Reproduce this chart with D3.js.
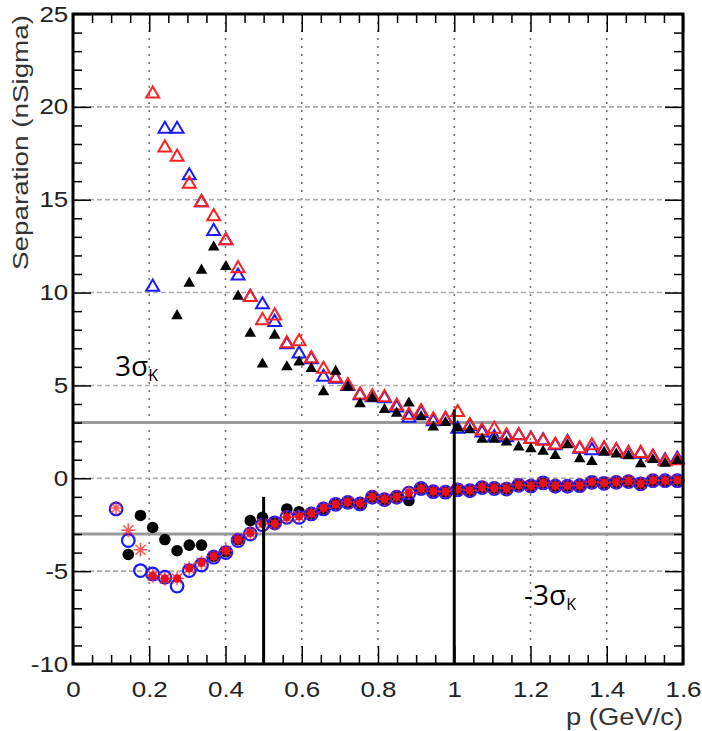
<!DOCTYPE html>
<html>
<head>
<meta charset="utf-8">
<script src="https://cdn.jsdelivr.net/npm/d3@7"></script>
<style>
body { margin: 0; background: #fff; }
svg { display: block; }
</style>
</head>
<body>
<div id="chart"></div>
<script>
// momentum bins (GeV/c)
const pBins = [0.113, 0.145, 0.177, 0.209, 0.241, 0.273, 0.305, 0.337, 0.369, 0.401,
    0.433, 0.465, 0.497, 0.529, 0.561, 0.593, 0.625, 0.657, 0.689, 0.721,
    0.753, 0.785, 0.817, 0.849, 0.881, 0.913, 0.945, 0.977, 1.009, 1.041,
    1.073, 1.105, 1.137, 1.169, 1.201, 1.233, 1.265, 1.297, 1.329, 1.361,
    1.393, 1.425, 1.457, 1.489, 1.521, 1.553, 1.585];

// upper branch (triangles)
const upperRed = [null, null, null, 20.7, 17.8, 17.3, 15.85, 14.85, 14.1, 12.8,
    11.3, 9.75, 8.5, 8.75, 7.25, 7.36, 6.45, 5.88, 5.4, 5.0,
    4.5, 4.4, 4.35, 3.9, 3.4, 3.6, 3.15, 3.2, 3.55, 2.85,
    2.56, 2.65, 2.3, 2.3, 2.1, 2.0, 1.8, 1.9, 1.6, 1.76,
    1.6, 1.5, 1.35, 1.35, 1.15, 0.9, 0.95];
const upperBlue = [null, null, null, 10.3, 18.8, 18.8, 16.3, 14.85, 13.3, 12.8,
    10.9, 9.75, 9.35, 8.4, 7.2, 6.7, 6.4, 5.45, 5.35, 4.95,
    4.45, 4.35, 4.3, 3.8, 3.25, 3.5, 3.05, 3.15, 2.65, 2.8,
    2.45, 2.2, 2.2, 2.3, 2.12, 2.03, 1.76, 1.94, 1.58, 1.5,
    1.58, 1.49, 1.31, 1.31, 1.13, 0.95, 1.04];
const upperBlack = [null, null, null, null, null, 8.75, 10.5, 11.2, 12.45, 11.4,
    9.8, 7.8, 6.15, 7.7, 6.0, 6.25, 5.9, 4.65, 5.75, 4.9,
    4.0, 4.3, 3.7, 3.5, 4.05, 3.3, 2.75, 3.0, 2.7, 2.6,
    2.1, 2.1, 1.94, 1.67, 1.58, 1.45, 1.22, 1.8, 1.04, 0.9,
    1.4, 1.3, 1.2, 0.77, 1.0, 0.8, 0.95];

// lower branch (circles / stars)
const lowerBlue = [-1.65, -3.35, -4.97, -5.15, -5.33, -5.8, -4.97, -4.67, -4.25, -4.0,
    -3.35, -3.0, -2.5, -2.4, -2.1, -2.1, -1.92, -1.65, -1.4, -1.3,
    -1.38, -1.02, -1.15, -1.02, -0.8, -0.55, -0.72, -0.75, -0.62, -0.67,
    -0.5, -0.55, -0.58, -0.38, -0.42, -0.25, -0.43, -0.43, -0.4, -0.22,
    -0.27, -0.22, -0.18, -0.3, -0.13, -0.13, -0.13];
const lowerRed = [-1.6, -2.8, -3.85, -5.25, -5.4, -5.4, -4.85, -4.55, -4.2, -3.9,
    -3.3, -2.95, -2.45, -2.45, -2.1, -2.05, -1.9, -1.6, -1.4, -1.28,
    -1.35, -1.0, -1.12, -1.0, -0.78, -0.55, -0.7, -0.72, -0.6, -0.65,
    -0.48, -0.52, -0.55, -0.36, -0.4, -0.25, -0.4, -0.4, -0.38, -0.2,
    -0.25, -0.2, -0.15, -0.28, -0.12, -0.12, -0.1];
const lowerBlack = [null, -4.1, -2.0, -2.65, -3.3, -3.9, -3.6, -3.6, -4.2, -3.95,
    -3.3, -2.28, -2.1, -2.4, -1.65, -1.8, -1.9, -1.65, -1.4, -1.3,
    -1.38, -1.02, -1.15, -1.02, -1.2, -0.55, -0.72, -0.75, -0.62, -0.67,
    -0.5, -0.55, -0.58, -0.38, -0.42, -0.25, -0.43, -0.43, -0.4, -0.22,
    -0.27, -0.22, -0.18, -0.3, -0.13, -0.13, -0.13];

const xTicks = [0, 0.2, 0.4, 0.6, 0.8, 1, 1.2, 1.4, 1.6];
const yTicks = [-10, -5, 0, 5, 10, 15, 20, 25];
const cutLines = [3, -3];              // +-3 sigma_K
const markers = [[0.5, -1.0], [1.0, 3.7]]; // vertical cuts: p, top of line

const width = 702, height = 731;
const x = d3.scaleLinear().domain([0, 1.6]).range([73, 683]);
const y = d3.scaleLinear().domain([-10, 25]).range([664, 14]);

const svg = d3.select("#chart").append("svg")
    .attr("width", width)
    .attr("height", height)
    .style("font-family", "'Liberation Sans', Arial, sans-serif");

// grille
svg.append("g").selectAll("line")
    .data(xTicks.slice(1, -1))
    .join("line")
    .attr("x1", d => x(d)).attr("x2", d => x(d))
    .attr("y1", y(25)).attr("y2", y(-10))
    .attr("stroke", "#777").attr("stroke-width", 1.6)
    .attr("stroke-dasharray", "2,6");
svg.append("g").selectAll("line")
    .data(yTicks.slice(1, -1))
    .join("line")
    .attr("x1", x(0)).attr("x2", x(1.6))
    .attr("y1", d => y(d)).attr("y2", d => y(d))
    .attr("stroke", "#aaa").attr("stroke-width", 1.6)
    .attr("stroke-dasharray", "5,3");

// lignes +-3 sigma
svg.append("g").selectAll("line")
    .data(cutLines)
    .join("line")
    .attr("x1", x(0)).attr("x2", x(1.6))
    .attr("y1", d => y(d)).attr("y2", d => y(d))
    .attr("stroke", "#999").attr("stroke-width", 3);

// axes (ticks inward, ROOT style)
const minorX = d3.range(0, 1.6001, 0.05).filter(v => Math.abs(v / 0.2 - Math.round(v / 0.2)) > 1e-6);
const minorY = d3.range(-10, 25.001, 1).filter(v => v % 5 !== 0);

function styleAxis(g) {
    g.select(".domain").remove();
    g.selectAll(".tick line").attr("stroke", "#000").attr("stroke-width", 1.5);
    g.selectAll("text").attr("fill", "#222").style("font-size", "22px")
        .attr("transform", "scale(1.18,1)");
}

svg.append("g").attr("transform", `translate(0,${y(-10)})`)
    .call(d3.axisBottom(x).tickValues(xTicks).tickSize(-18).tickPadding(17)
        .tickFormat(d => d3.format("~g")(d)))
    .call(styleAxis);
svg.append("g").attr("transform", `translate(0,${y(-10)})`)
    .call(d3.axisBottom(x).tickValues(minorX).tickSize(-9).tickFormat(""))
    .call(styleAxis);
svg.append("g").attr("transform", `translate(0,${y(25)})`)
    .call(d3.axisTop(x).tickValues(xTicks).tickSize(-18).tickFormat(""))
    .call(styleAxis);
svg.append("g").attr("transform", `translate(0,${y(25)})`)
    .call(d3.axisTop(x).tickValues(minorX).tickSize(-9).tickFormat(""))
    .call(styleAxis);

svg.append("g").attr("transform", `translate(${x(0)},0)`)
    .call(d3.axisLeft(y).tickValues(yTicks).tickSize(-18).tickPadding(4)
        .tickFormat(d => String(d)))
    .call(styleAxis);
svg.append("g").attr("transform", `translate(${x(0)},0)`)
    .call(d3.axisLeft(y).tickValues(minorY).tickSize(-9).tickFormat(""))
    .call(styleAxis);
svg.append("g").attr("transform", `translate(${x(1.6)},0)`)
    .call(d3.axisRight(y).tickValues(yTicks).tickSize(-18).tickFormat(""))
    .call(styleAxis);
svg.append("g").attr("transform", `translate(${x(1.6)},0)`)
    .call(d3.axisRight(y).tickValues(minorY).tickSize(-9).tickFormat(""))
    .call(styleAxis);

// points
function pts(vals) {
    return pBins.map((p, i) => [p, vals[i]]).filter(d => d[1] != null);
}
const tri = d3.symbol().type(d3.symbolTriangle).size(72)();
const triFill = d3.symbol().type(d3.symbolTriangle).size(58)();
const star = "M0,-7L0,7M-7,0L7,0M-5,-5L5,5M-5,5L5,-5";

const marks = svg.append("g");

marks.append("g").selectAll("circle")
    .data(pts(lowerBlack)).join("circle")
    .attr("cx", d => x(d[0])).attr("cy", d => y(d[1])).attr("r", 5.8)
    .attr("fill", "#000");

marks.append("g").selectAll("circle")
    .data(pts(lowerBlue)).join("circle")
    .attr("cx", d => x(d[0])).attr("cy", d => y(d[1])).attr("r", 6.3)
    .attr("fill", "none").attr("stroke", "#1a1aff").attr("stroke-width", 2.2);

const redStars = marks.append("g").selectAll("g")
    .data(pts(lowerRed)).join("g")
    .attr("transform", d => `translate(${x(d[0])},${y(d[1])})`);
redStars.append("path").attr("d", star)
    .attr("stroke", "#ff2020").attr("stroke-width", 1.6).attr("stroke-opacity", 0.75);
redStars.filter((d, i) => i > 2).append("circle").attr("r", 4.2).attr("fill", "#e8101a");

marks.append("g").selectAll("path")
    .data(pts(upperBlue)).join("path")
    .attr("d", tri)
    .attr("transform", d => `translate(${x(d[0])},${y(d[1])})`)
    .attr("fill", "none").attr("stroke", "#1a1aff").attr("stroke-width", 2);

marks.append("g").selectAll("path")
    .data(pts(upperRed)).join("path")
    .attr("d", tri)
    .attr("transform", d => `translate(${x(d[0])},${y(d[1])})`)
    .attr("fill", "none").attr("stroke", "#ff2020").attr("stroke-width", 2);

marks.append("g").selectAll("path")
    .data(pts(upperBlack)).join("path")
    .attr("d", triFill)
    .attr("transform", d => `translate(${x(d[0])},${y(d[1])})`)
    .attr("fill", "#000");

// lignes verticales
svg.append("g").selectAll("line")
    .data(markers)
    .join("line")
    .attr("x1", d => x(d[0])).attr("x2", d => x(d[0]))
    .attr("y1", d => y(d[1])).attr("y2", y(-10))
    .attr("stroke", "#000").attr("stroke-width", 3);

// cadre
svg.append("rect")
    .attr("x", x(0)).attr("y", y(25))
    .attr("width", x(1.6) - x(0)).attr("height", y(-10) - y(25))
    .attr("fill", "none").attr("stroke", "#000").attr("stroke-width", 3);

// titres des axes
svg.append("text")
    .attr("transform", `translate(28,${y(25) + 1}) rotate(-90)`)
    .attr("text-anchor", "end")
    .attr("fill", "#333")
    .attr("textLength", 255)
    .attr("lengthAdjust", "spacingAndGlyphs")
    .style("font-size", "22px")
    .text("Separation (nSigma)");
svg.append("text")
    .attr("x", x(1.6)).attr("y", 725)
    .attr("text-anchor", "end")
    .attr("fill", "#333")
    .attr("textLength", 117)
    .attr("lengthAdjust", "spacingAndGlyphs")
    .style("font-size", "24px")
    .text("p (GeV/c)");

// annotations
function sigmaLabel(tx, ty, prefix) {
    const t = svg.append("text")
        .attr("x", tx).attr("y", ty)
        .style("font-family", "'Open Sans', 'Noto Sans', sans-serif")
        .style("font-size", "28px")
        .attr("fill", "#000");
    t.append("tspan").text(prefix + "σ");
    t.append("tspan").attr("dy", 5).style("font-size", "16px").text("K");
}
sigmaLabel(115, 376, "3");
sigmaLabel(524, 605, "-3");
</script>
</body>
</html>
